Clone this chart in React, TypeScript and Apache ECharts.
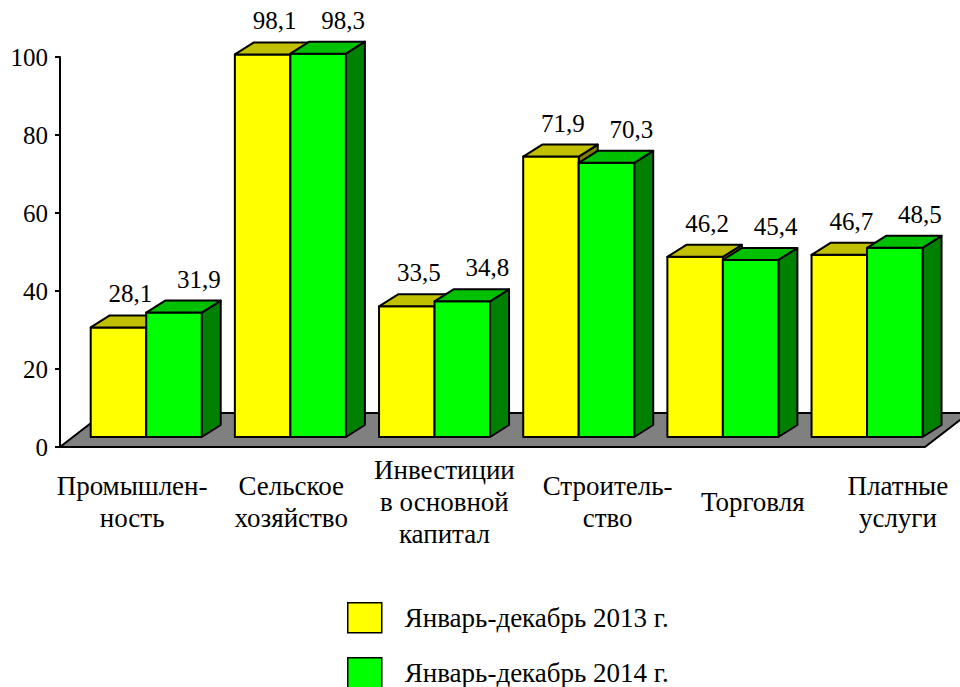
import React, { useEffect, useRef } from "react";
import * as echarts from "echarts";

const categories = [
  "Промышлен-\nность",
  "Сельское\nхозяйство",
  "Инвестиции\nв основной\nкапитал",
  "Строитель-\nство",
  "Торговля",
  "Платные\nуслуги",
];
const values2013 = [28.1, 98.1, 33.5, 71.9, 46.2, 46.7];
const values2014 = [31.9, 98.3, 34.8, 70.3, 45.4, 48.5];
const seriesNames = ["Январь-декабрь 2013 г.", "Январь-декабрь 2014 г."];
const yMin = 0;
const yMax = 100;
const yStep = 20;

const FONT = "Liberation Serif, serif";
const faces = [
  { front: "#FFFF00", top: "#C0C000", side: "#808000" },
  { front: "#00FF00", top: "#00C000", side: "#008000" },
];
const DX = 19;
const DY = 12;
const LIFT = 10;
const CAT_LINE_H = 32;
// horizontal shift of each category label (styling)
const labelShiftPx = [0, 15, 24, 43, 44, 45];

function fmt(v: number) {
  return v.toFixed(1).replace(".", ",");
}

function makeBarRenderer(k: number) {
  return (params: any, api: any) => {
    const i = api.value(0);
    const v = api.value(1);
    const [cx, y0] = api.coord([i, 0]);
    const yv = api.coord([i, v])[1];
    const bw = api.size([1, 0])[0];
    const barW = bw * 0.385;
    const left = cx - bw * 0.287 + k * barW;
    const base = y0 - LIFT;
    const top = yv - LIFT;
    const f = faces[k];
    const stroke = { stroke: "#000", lineWidth: 2, lineJoin: "round" };
    return {
      type: "group",
      children: [
        {
          type: "polygon",
          shape: {
            points: [
              [left + barW, top],
              [left + barW + DX, top - DY],
              [left + barW + DX, base - DY],
              [left + barW, base],
            ],
          },
          style: { fill: f.side, ...stroke },
        },
        {
          type: "rect",
          shape: { x: left, y: top, width: barW, height: base - top },
          style: { fill: f.front, ...stroke },
        },
        {
          type: "polygon",
          shape: {
            points: [
              [left, top],
              [left + barW, top],
              [left + barW + DX, top - DY],
              [left + DX, top - DY],
            ],
          },
          style: { fill: f.top, ...stroke },
        },
        {
          type: "text",
          x: left + barW / 2 + 12 + 13 * k,
          y: top - DY - 9,
          style: {
            text: fmt(v),
            fill: "#000",
            fontFamily: FONT,
            fontSize: 25,
            align: "center",
            verticalAlign: "bottom",
          },
        },
      ],
    };
  };
}

function floorRenderer(params: any, api: any) {
  const cs = params.coordSys;
  const x = cs.x;
  const yb = cs.y + cs.height;
  const w = cs.width;
  return {
    type: "polygon",
    shape: {
      points: [
        [x, yb],
        [x + w, yb],
        [x + w + 44, yb - 34],
        [x + 44, yb - 34],
      ],
    },
    style: { fill: "#808080", stroke: "#000", lineWidth: 2 },
  };
}

function legendFor(idx: number, top: number) {
  return {
    orient: "vertical",
    left: 347,
    top,
    padding: 0,
    itemWidth: 34,
    itemHeight: 30,
    icon: "rect",
    textStyle: {
      fontFamily: FONT,
      fontSize: 27,
      lineHeight: 24,
      color: "#000",
      padding: [0, 0, 0, 18],
    },
    data: [
      {
        name: seriesNames[idx],
        itemStyle: { color: faces[idx].front, borderColor: "#000", borderWidth: 1.5 },
      },
    ],
  };
}

export default function App() {
  const ref = useRef<HTMLDivElement>(null);
  useEffect(() => {
    if (!ref.current) return;
    const chart = echarts.init(ref.current, undefined, { renderer: "svg" });
    const lineCounts = categories.map((c) => c.split("\n").length);
    const maxLines = Math.max(...lineCounts);
    chart.setOption({
      animation: false,
      backgroundColor: "#fff",
      textStyle: { fontFamily: FONT, color: "#000" },
      grid: { left: 60, right: 35, top: 57, bottom: 240, containLabel: false },
      legend: [legendFor(0, 602), legendFor(1, 657)],
      xAxis: {
        type: "category",
        data: categories.map((c, i) => ({
          value: c,
          textStyle: {
            padding: [
              ((maxLines - lineCounts[i]) * CAT_LINE_H) / 2,
              0,
              0,
              2 * labelShiftPx[i],
            ],
          },
        })),
        axisLine: { show: false },
        axisTick: { show: false },
        axisLabel: {
          interval: 0,
          fontFamily: FONT,
          fontSize: 27,
          lineHeight: CAT_LINE_H,
          color: "#000",
          verticalAlign: "top",
          margin: 7,
        },
      },
      yAxis: {
        type: "value",
        min: yMin,
        max: yMax,
        interval: yStep,
        axisLine: { show: true, lineStyle: { color: "#000", width: 2 } },
        axisTick: { show: true, length: 5, lineStyle: { color: "#000", width: 2 } },
        splitLine: { show: false },
        axisLabel: { fontFamily: FONT, fontSize: 25, color: "#000", margin: 12 },
        z: 5,
      },
      series: [
        {
          type: "custom",
          name: "floor",
          silent: true,
          renderItem: floorRenderer,
          data: [[0, 0]],
          encode: { x: 0, y: 1 },
          z: 1,
        },
        {
          type: "custom",
          name: seriesNames[0],
          itemStyle: { color: faces[0].front },
          renderItem: makeBarRenderer(0),
          data: values2013.map((v, i) => [i, v]),
          encode: { x: 0, y: 1 },
          z: 2,
        },
        {
          type: "custom",
          name: seriesNames[1],
          itemStyle: { color: faces[1].front },
          renderItem: makeBarRenderer(1),
          data: values2014.map((v, i) => [i, v]),
          encode: { x: 0, y: 1 },
          z: 3,
        },
      ],
    });
    return () => chart.dispose();
  }, []);
  return (
    <div
      ref={ref}
      style={{ position: "fixed", left: 0, top: 0, width: 960, height: 687 }}
    />
  );
}
